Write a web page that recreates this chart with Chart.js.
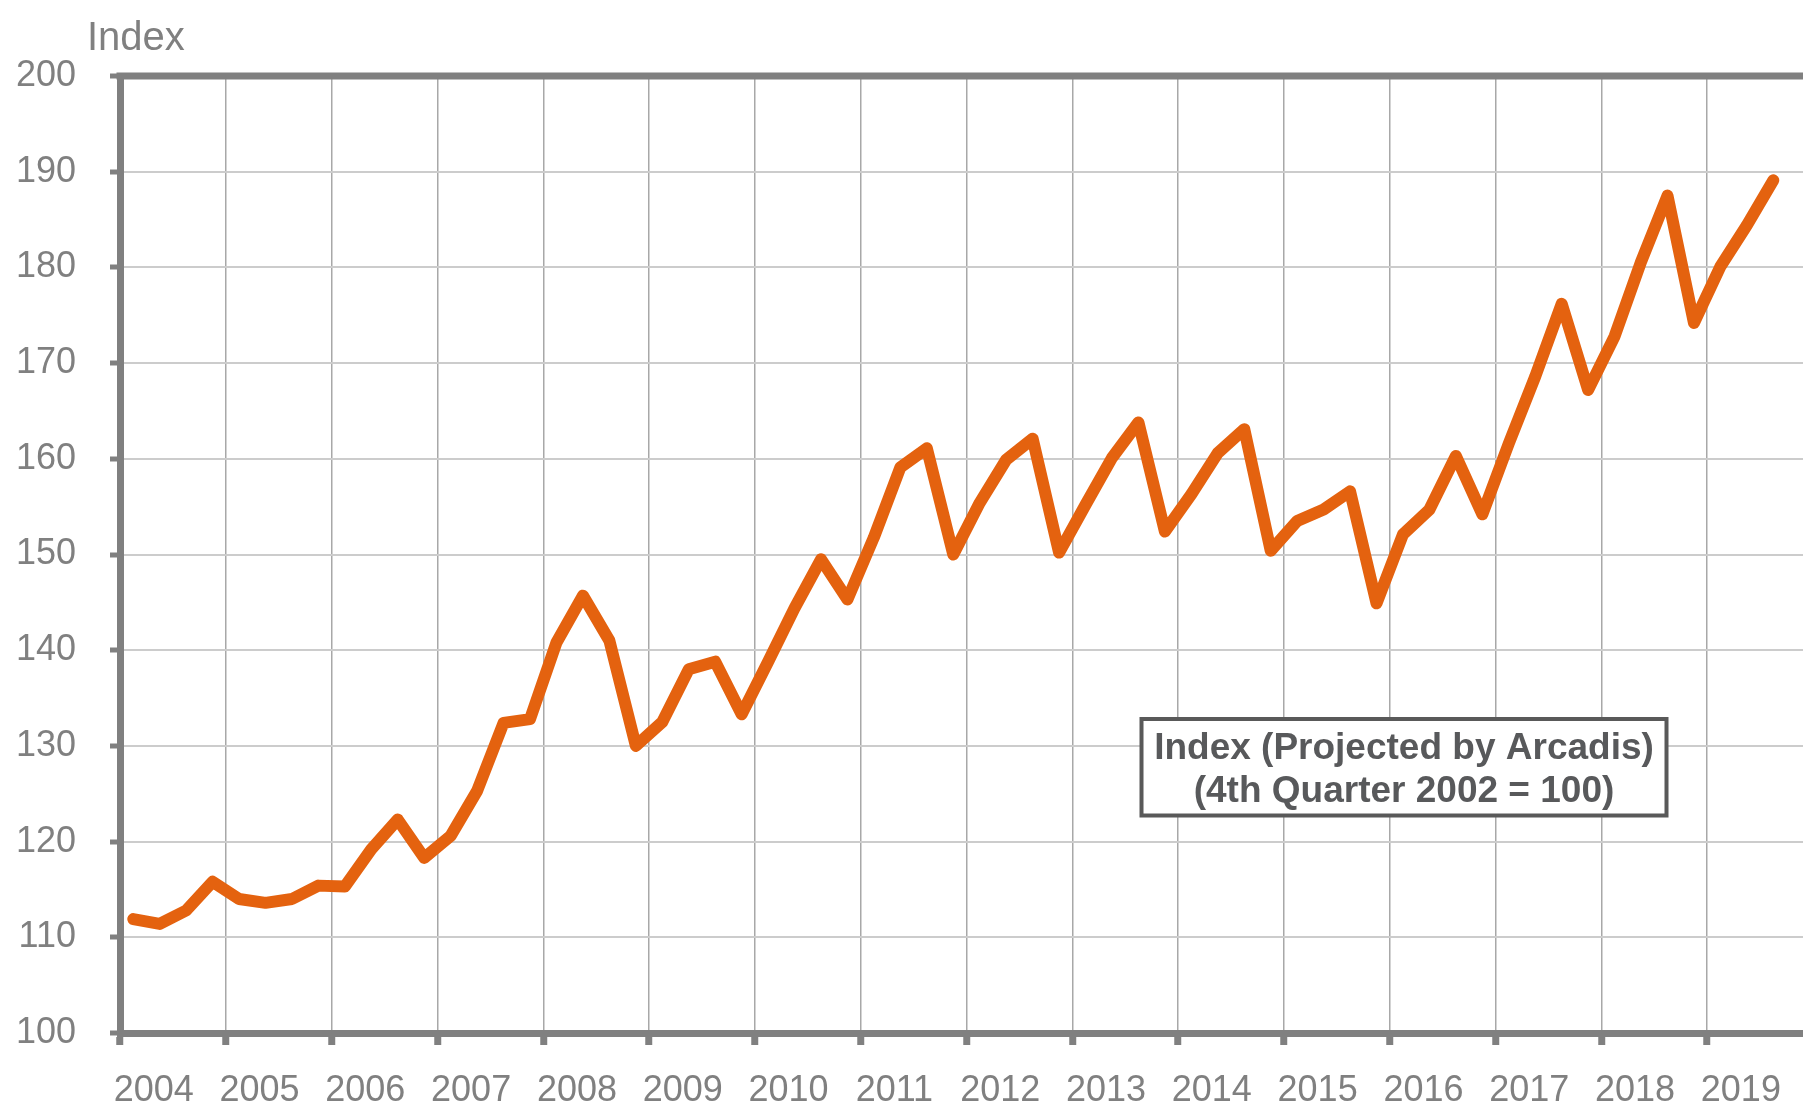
<!DOCTYPE html>
<html>
<head>
<meta charset="utf-8">
<script src="https://cdn.jsdelivr.net/npm/chart.js@4"></script>
<style>
  html, body { margin: 0; padding: 0; background: #fff; overflow: hidden; }
  #wrap { position: absolute; left: 0; top: 0; width: 1813px; height: 1104px; }
</style>
</head>
<body>
<div id="wrap"><canvas id="index-chart"></canvas></div>
<script>
// years on the x axis, one point per quarter
let years = ['2004','2005','2006','2007','2008','2009','2010','2011',
             '2012','2013','2014','2015','2016','2017','2018','2019'];
let quarters = ['Q1','Q2','Q3','Q4'];

// index values, 2004 Q1 .. 2019 Q3
let indexValues = [
  111.9, 111.4, 112.8, 115.8,
  114.0, 113.6, 114.0, 115.4,
  115.3, 119.2, 122.3, 118.3,
  120.6, 125.3, 132.4, 132.8,
  140.8, 145.7, 141.0, 130.0,
  132.5, 138.0, 138.8, 133.3,
  138.8, 144.4, 149.5, 145.3,
  151.8, 159.1, 161.1, 150.0,
  155.4, 159.9, 162.1, 150.2,
  155.2, 160.1, 163.8, 152.4,
  156.3, 160.6, 163.1, 150.4,
  153.5, 154.7, 156.6, 144.9,
  152.1, 154.7, 160.3, 154.2,
  161.6, 168.6, 176.2, 167.2,
  172.8, 180.6, 187.5, 174.2,
  180.1, 184.4, 189.1
];

let yTicks = { min: 100, max: 200, step: 10 };
let axisTitle = 'Index';
let noteLines = ['Index (Projected by Arcadis)', '(4th Quarter 2002 = 100)'];

let labels = [];
years.forEach(y => quarters.forEach(q => labels.push(y + ' ' + q)));

const grey = '#808080';
const fontFamily = "'Liberation Sans', Arial, sans-serif";

// frame top line, "Index" label and the note box
let extras = {
  id: 'extras',
  beforeDatasetsDraw(chart) {
    const ctx = chart.ctx;
    const a = chart.chartArea;
    ctx.save();
    ctx.strokeStyle = grey;
    ctx.lineWidth = 7;
    ctx.beginPath();
    ctx.moveTo(a.left - 3.5, a.top);
    ctx.lineTo(a.right, a.top);
    ctx.stroke();
    ctx.restore();
  },
  afterDraw(chart) {
    const ctx = chart.ctx;
    const a = chart.chartArea;
    ctx.save();
    ctx.fillStyle = grey;
    ctx.font = '40px ' + fontFamily;
    ctx.textAlign = 'left';
    ctx.textBaseline = 'alphabetic';
    ctx.fillText(axisTitle, a.left - 33, a.top - 26);

    // note box
    const bx = a.left + 1021.5, by = a.top + 643, bw = 525, bh = 96.5;
    ctx.fillStyle = '#ffffff';
    ctx.fillRect(bx, by, bw, bh);
    ctx.strokeStyle = '#595959';
    ctx.lineWidth = 4;
    ctx.strokeRect(bx, by, bw, bh);
    ctx.fillStyle = '#58595b';
    ctx.font = 'bold 37px ' + fontFamily;
    ctx.textAlign = 'center';
    ctx.fillText(noteLines[0], bx + bw / 2, by + 40);
    ctx.fillText(noteLines[1], bx + bw / 2, by + 83);
    ctx.restore();
  }
};

let chartEl = document.getElementById('index-chart');

new Chart(chartEl, {
  type: 'line',
  data: {
    labels: labels,
    datasets: [
      {
        label: 'Index',
        data: indexValues,
        borderColor: '#E4620F',
        backgroundColor: '#E4620F',
        borderWidth: 12,
        borderJoinStyle: 'round',
        borderCapStyle: 'round',
        pointRadius: 0,
        tension: 0,
        fill: false,
      },
    ],
  },
  options: {
    responsive: true,
    maintainAspectRatio: false,
    animation: false,
    layout: { padding: { top: 76, left: 0, right: 0, bottom: 0 } },
    plugins: {
      legend: { display: false },
      tooltip: { enabled: false },
    },
    scales: {
      x: {
        type: 'category',
        offset: true,
        afterFit: s => { s.height = 71; s.paddingLeft = 0; s.paddingRight = 0; },
        border: { display: true, color: grey, width: 7 },
        grid: {
          offset: true,
          drawOnChartArea: true,
          color: c => (c.index % 4 === 0 ? '#a8a8a8' : 'rgba(0,0,0,0)'),
          lineWidth: 1.5,
          tickColor: c => (c.index % 4 === 0 ? grey : 'rgba(0,0,0,0)'),
          tickWidth: 7,
          tickLength: 12,
        },
        ticks: {
          autoSkip: false,
          maxRotation: 0,
          minRotation: 0,
          padding: 24,
          labelOffset: -6,
          color: grey,
          font: { family: fontFamily, size: 36 },
          callback: (v, i) => (i % 4 === 1 ? years[Math.floor(i / 4)] : ''),
        },
      },
      y: {
        min: yTicks.min,
        max: yTicks.max,
        afterFit: s => { s.width = 120; },
        border: { display: true, color: grey, width: 7 },
        grid: {
          color: '#cccccc',
          lineWidth: 2,
          tickColor: grey,
          tickWidth: 5,
          tickLength: 10,
        },
        ticks: {
          stepSize: yTicks.step,
          padding: 34,
          color: grey,
          font: { family: fontFamily, size: 36 },
        },
      },
    },
  },
  plugins: [extras],
});
</script>
</body>
</html>
